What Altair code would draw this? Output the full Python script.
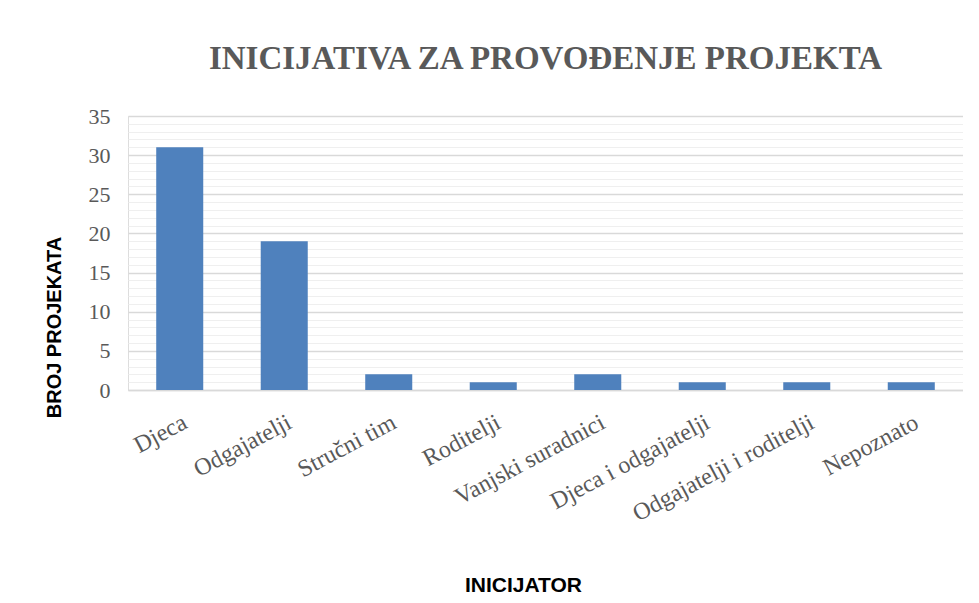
import altair as alt
import pandas as pd

categories = ["Djeca", "Odgajatelji", "Stručni tim", "Roditelji", "Vanjski suradnici",
              "Djeca i odgajatelji", "Odgajatelji i roditelji", "Nepoznato"]
values = [31, 19, 2, 1, 2, 1, 1, 1]
y_ticks = list(range(0, 36))

df = pd.DataFrame({"kat": categories, "broj": values})

chart = alt.Chart(df).mark_bar(color="#4f81bd").encode(
    x=alt.X("kat:N", sort=categories,
            scale=alt.Scale(paddingInner=0.55, paddingOuter=0.27),
            axis=alt.Axis(title="INICIJATOR", labelAngle=-28, labelAlign="right",
                          labelBaseline="top", labelFont="Liberation Serif",
                          labelFontSize=24, labelColor="#595959", labelPadding=20,
                          labelLimit=400,
                          ticks=False, domainColor="#d9d9d9", domainWidth=1.5,
                          titleFont="Liberation Sans", titleFontSize=21,
                          titleFontWeight="bold", titleColor="#000000",
                          titleX=395, titleY=195, titleBaseline="middle",
                          titleAlign="center", labelOverlap=False)),
    y=alt.Y("broj:Q", scale=alt.Scale(domain=[0, 35], nice=False),
            axis=alt.Axis(title="BROJ PROJEKATA", values=y_ticks,
                          labelExpr="datum.value % 5 === 0 ? datum.label : ''",
                          gridColor=alt.condition("datum.value % 5 === 0",
                                                  alt.value("#d9d9d9"), alt.value("#efefef")),
                          gridWidth=alt.condition("datum.value % 5 === 0",
                                                  alt.value(1.6), alt.value(1.0)),
                          domain=False, ticks=False,
                          labelFont="Liberation Serif", labelFontSize=22,
                          labelColor="#595959", labelPadding=18,
                          titleFont="Liberation Sans", titleFontSize=20,
                          titleFontWeight="bold", titleColor="#000000",
                          titleAngle=-90, titleX=-74, titleY=211,
                          titleAlign="center", titleBaseline="middle")),
).properties(
    width=835, height=274,
    title=alt.TitleParams("INICIJATIVA ZA PROVOĐENJE PROJEKTA", font="Liberation Serif",
                          fontSize=33, fontWeight="bold", color="#595959",
                          anchor="middle", offset=29),
    autosize=alt.AutoSizeParams(type="none"),
    padding={"left": 120, "top": 108, "right": 0, "bottom": 210},
).configure_view(stroke=None).configure(background="white")

chart.save("out.html", embed_options={"renderer": "svg", "actions": False})
